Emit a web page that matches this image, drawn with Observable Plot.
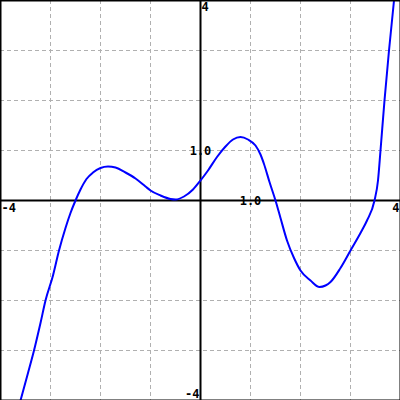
<!DOCTYPE html>
<html>
<head>
<meta charset="utf-8">
<script src="https://cdn.jsdelivr.net/npm/d3@7"></script>
<script src="https://cdn.jsdelivr.net/npm/@observablehq/plot@0.6"></script>
<style>
  html, body { margin: 0; padding: 0; background: #fff; }
</style>
</head>
<body>
<div id="chart"></div>
<script>
const curveX = [-3.6, -3.45, -3.33, -3.2, -3.1, -2.95, -2.83, -2.7, -2.6, -2.5, -2.4, -2.28, -2.15, -2.0, -1.85, -1.7, -1.5, -1.3, -1.1, -1.0, -0.8, -0.6, -0.5, -0.33, -0.15, 0, 0.15, 0.33, 0.5, 0.65, 0.8, 0.95, 1.1, 1.2, 1.27, 1.38, 1.5, 1.6, 1.73, 1.87, 2.0, 2.2, 2.38, 2.5, 2.6, 2.8, 3.0, 3.2, 3.33, 3.48, 3.55, 3.6, 3.68, 3.77, 3.87];
const curveY = [-4, -3.45, -3, -2.45, -2, -1.5, -1, -0.55, -0.25, 0, 0.22, 0.43, 0.56, 0.65, 0.68, 0.66, 0.56, 0.44, 0.28, 0.2, 0.1, 0.03, 0.02, 0.08, 0.22, 0.4, 0.6, 0.87, 1.08, 1.22, 1.27, 1.22, 1.1, 0.92, 0.73, 0.37, 0, -0.35, -0.8, -1.15, -1.4, -1.6, -1.73, -1.7, -1.63, -1.35, -1.0, -0.65, -0.4, 0, 0.4, 1.0, 2.0, 3.0, 4.0];
const gridTicks = [-3, -2, -1, 1, 2, 3];
const labelText = ["-4", "4", "4", "-4", "1.0", "1.0"];
const labelX = [-4, 4, 0, 0, 1, 0];
const labelY = [0, 0, 4, -4, 0, 1];

const curve = curveX.map((x, i) => ({x, y: curveY[i]}));
const labels = labelText.map((t, i) => ({t, x: labelX[i], y: labelY[i]}));
const font = {fontFamily: "DejaVu Sans Mono", fontWeight: "bold", fontSize: 12, fill: "black"};

const chart = Plot.plot({
  width: 400,
  height: 400,
  margin: 0,
  x: {domain: [-4, 4], axis: null},
  y: {domain: [-4, 4], axis: null},
  style: {background: "white"},
  marks: [
    Plot.ruleX(gridTicks, {stroke: "#b0b0b0", strokeWidth: 1, strokeDasharray: "4,3"}),
    Plot.ruleY(gridTicks, {stroke: "#b0b0b0", strokeWidth: 1, strokeDasharray: "4,3"}),
    Plot.ruleX([0], {stroke: "black", strokeWidth: 2}),
    Plot.ruleY([0], {stroke: "black", strokeWidth: 2}),
    Plot.line(curve, {x: "x", y: "y", stroke: "#0000ff", strokeWidth: 2, curve: "monotone-x", clip: true}),
    Plot.text(labels.filter(d => d.x === -4), {x: "x", y: "y", text: "t", textAnchor: "start", dx: 1, dy: 8, ...font}),
    Plot.text(labels.filter(d => d.x === 4), {x: "x", y: "y", text: "t", textAnchor: "end", dx: -1, dy: 8, ...font}),
    Plot.text(labels.filter(d => d.y === 4), {x: "x", y: "y", text: "t", textAnchor: "start", dx: 1, dy: 7, ...font}),
    Plot.text(labels.filter(d => d.y === -4), {x: "x", y: "y", text: "t", textAnchor: "end", dx: -1, dy: -6, ...font}),
    Plot.text(labels.filter(d => d.t === "1.0"), {x: "x", y: "y", text: "t", textAnchor: "middle", dy: 1, ...font}),
    Plot.frame({stroke: "black", strokeWidth: 2})
  ]
});
document.getElementById("chart").appendChild(chart);
</script>
</body>
</html>
